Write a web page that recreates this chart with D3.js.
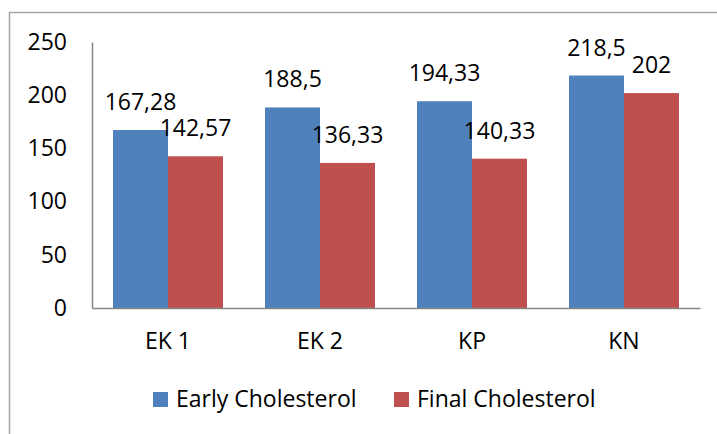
<!DOCTYPE html>
<html>
<head>
<meta charset="utf-8">
<script src="https://cdn.jsdelivr.net/npm/d3@7"></script>
<style>
  body { margin: 0; background: #fff; }
  text { font-family: "Open Sans", "Noto Sans", sans-serif; fill: #000; }
</style>
</head>
<body>
<div id="chart"></div>
<script>
// chart data
const categories = ["EK 1", "EK 2", "KP", "KN"];
const seriesNames = ["Early Cholesterol", "Final Cholesterol"];
const earlyValues = [167.28, 188.5, 194.33, 218.5];
const finalValues = [142.57, 136.33, 140.33, 202];
const earlyLabels = ["167,28", "188,5", "194,33", "218,5"];
const finalLabels = ["142,57", "136,33", "140,33", "202"];
const yTicks = [0, 50, 100, 150, 200, 250];
const colors = ["#4F81BD", "#C0504D"];

const W = 717, H = 434;
const plot = { left: 92, right: 700, top: 42, bottom: 308 };
const fontSize = "23px";

const svg = d3.select("#chart").append("svg")
  .attr("width", W).attr("height", H);

// outer chart border (runs off the right/bottom of the picture)
svg.append("rect")
  .attr("x", 9.5).attr("y", 12.5)
  .attr("width", W + 20).attr("height", H + 20)
  .attr("fill", "none").attr("stroke", "#a6a6a6").attr("stroke-width", 1.5);

//==================== SCALES ====================
const x0 = d3.scaleBand().domain(categories)
  .range([plot.left, plot.right]).paddingInner(0.2763).paddingOuter(0.1382);
const x1 = d3.scaleBand().domain([0, 1]).range([0, x0.bandwidth()]);
const y = d3.scaleLinear().domain([0, 250]).range([plot.bottom, plot.top]);

const rows = categories.map((c, i) => ({
  cat: c,
  vals: [
    { s: 0, v: earlyValues[i], lab: earlyLabels[i] },
    { s: 1, v: finalValues[i], lab: finalLabels[i] }
  ]
}));

//==================== BARS ====================
const groups = svg.selectAll(".grp").data(rows).enter().append("g")
  .attr("class", "grp")
  .attr("transform", d => `translate(${x0(d.cat)},0)`);

groups.selectAll("rect").data(d => d.vals).enter().append("rect")
  .attr("x", d => x1(d.s))
  .attr("width", x1.bandwidth())
  .attr("y", d => y(d.v))
  .attr("height", d => y(0) - y(d.v))
  .attr("fill", d => colors[d.s]);

// value labels above each bar
groups.selectAll(".val").data(d => d.vals).enter().append("text")
  .attr("class", "val")
  .attr("x", d => x1(d.s) + x1.bandwidth() / 2)
  .attr("y", d => y(d.v) - 20)
  .attr("text-anchor", "middle")
  .style("font-size", fontSize)
  .text(d => d.lab);

//==================== AXES ====================
const yAxis = svg.append("g")
  .attr("transform", `translate(${plot.left},0)`)
  .call(d3.axisLeft(y).tickValues(yTicks).tickSize(0).tickPadding(25));
yAxis.select(".domain").attr("stroke", "#868686").attr("stroke-width", 1.5);
yAxis.selectAll("text").style("font-size", fontSize).attr("font-family", null);

const xAxis = svg.append("g")
  .attr("transform", `translate(0,${plot.bottom})`)
  .call(d3.axisBottom(x0).tickSize(0).tickPadding(25));
xAxis.select(".domain").attr("stroke", "#868686").attr("stroke-width", 1.5);
xAxis.selectAll("text").style("font-size", fontSize).attr("font-family", null);

//==================== LEGEND ====================
const legendX = [153, 394];
const legend = svg.selectAll(".leg").data(seriesNames).enter().append("g")
  .attr("class", "leg")
  .attr("transform", (d, i) => `translate(${legendX[i]},392)`);
legend.append("rect").attr("width", 15).attr("height", 15)
  .attr("fill", (d, i) => colors[i]);
legend.append("text").attr("x", 23).attr("y", 15)
  .style("font-size", fontSize)
  .text(d => d);
</script>
</body>
</html>
